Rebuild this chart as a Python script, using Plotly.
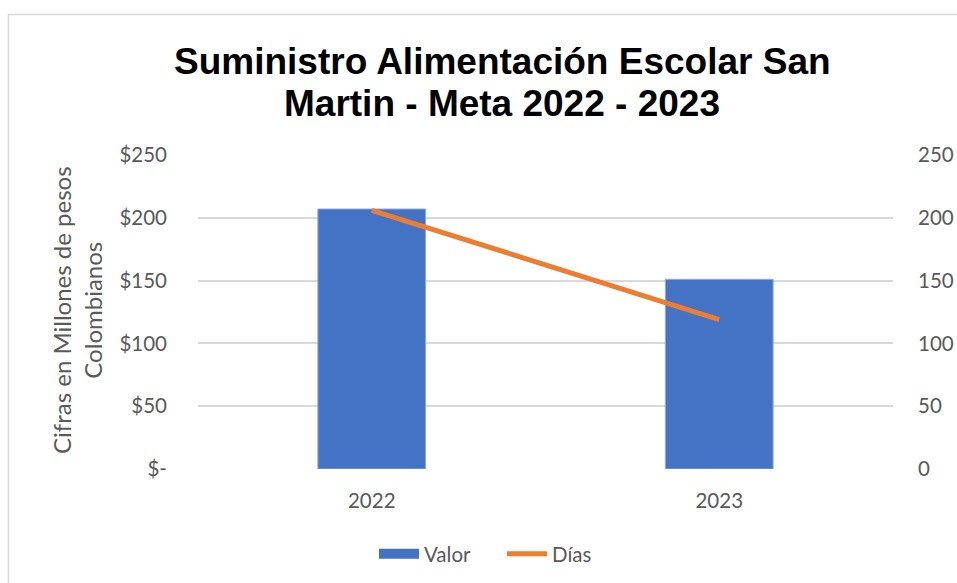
import plotly.graph_objects as go

# data
years = ["2022", "2023"]
valor = [207, 151]      # millones de pesos
dias = [206, 119]
left_ticks = [0, 50, 100, 150, 200, 250]
left_labels = ["$-", "$50", "$100", "$150", "$200", "$250"]
right_labels = ["0", "50", "100", "150", "200", "250"]
title_lines = ["Suministro Alimentación Escolar San", "Martin - Meta 2022 - 2023"]

tick_font = dict(family="Lato, Open Sans, sans-serif", size=20.5, color="#595959")

# plot area in pixels
L, R, T, B = 198, 893, 155, 469
W, H = 957, 583


def px_x(x):
    return (x - L) / (R - L)


def px_y(y):
    return (B - y) / (B - T)


fig = go.Figure()
fig.add_trace(go.Bar(x=years, y=valor, name="Valor", width=0.31, showlegend=False,
                     marker=dict(color="#4472C4", line=dict(color="#8faadc", width=1))))
# legend entry drawn as a thick swatch like the original
fig.add_trace(go.Scatter(x=[None], y=[None], name="Valor", mode="lines",
                         line=dict(color="#4472C4", width=14)))
fig.add_trace(go.Scatter(x=years, y=dias, name="Días", mode="lines", yaxis="y2",
                         line=dict(color="#ED7D31", width=5)))

annotations = [dict(text="Cifras en Millones de pesos<br>Colombianos", textangle=-90,
                    xref="paper", yref="paper", x=px_x(77), y=px_y(310),
                    xanchor="center", yanchor="middle", showarrow=False,
                    font=dict(family="Lato, Open Sans, sans-serif", size=24, color="#595959"))]
for line, yc in zip(title_lines, [62, 104]):
    annotations.append(dict(text="<b>" + line + "</b>", xref="paper", yref="paper",
                            x=px_x(502), y=px_y(yc), xanchor="center", yanchor="middle",
                            showarrow=False,
                            font=dict(family="Liberation Sans, Arial", size=37, color="black")))

fig.update_layout(
    width=W, height=H,
    margin=dict(l=L, r=W - R, t=T, b=H - B, autoexpand=False),
    plot_bgcolor="white", paper_bgcolor="white",
    xaxis=dict(type="category", tickfont=tick_font, showline=False, ticks="",
               ticklabelstandoff=17),
    yaxis=dict(range=[0, 250], tickvals=left_ticks, ticktext=left_labels,
               tickfont=tick_font, gridcolor="#d9d9d9", gridwidth=1.5,
               zeroline=False, ticklabelstandoff=30),
    yaxis2=dict(range=[0, 250], tickvals=left_ticks, ticktext=right_labels,
                overlaying="y", side="right", showgrid=False, zeroline=False,
                tickfont=tick_font, ticklabelstandoff=24),
    legend=dict(orientation="h", x=px_x(502), xanchor="center", y=px_y(554), yanchor="middle",
                font=tick_font, traceorder="normal", itemwidth=40,
                entrywidth=73, entrywidthmode="pixels"),
    bargap=0.69,
    shapes=[dict(type="rect", xref="paper", yref="paper",
                 x0=px_x(8.5), x1=1.5, y0=-1.0, y1=px_y(14.5),
                 line=dict(color="#d9d9d9", width=1.5), layer="below")],
    annotations=annotations,
)

fig.write_html("out.html", config={"displayModeBar": False},
               post_script="document.body.style.margin='0';")
